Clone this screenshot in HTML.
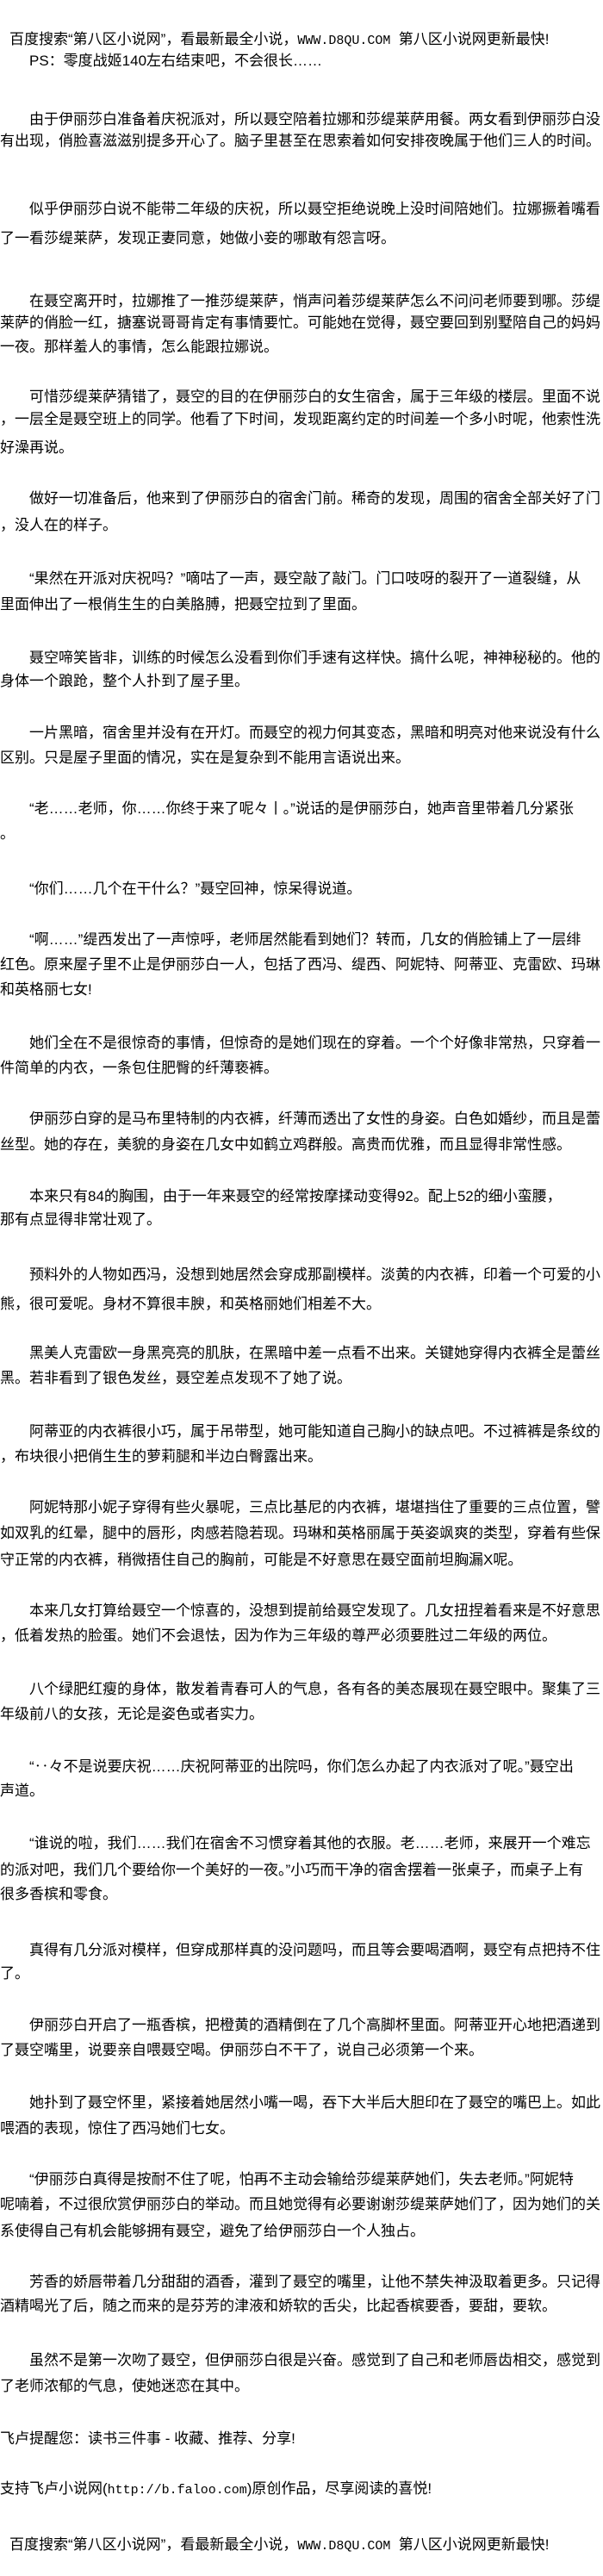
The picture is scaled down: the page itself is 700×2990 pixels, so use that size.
<!DOCTYPE html>
<html><head><meta charset="utf-8">
<style>
html,body{margin:0;padding:0;background:#fff;}
body{width:700px;height:2990px;position:relative;overflow:hidden;color:#000;
font-family:"Liberation Sans","Noto Sans CJK SC",sans-serif;font-size:17px;}
.l{position:absolute;left:0;white-space:nowrap;line-height:24px;height:24px;}
.i{left:34px;}
.h{left:11px;}
.m{font-family:"Liberation Mono","Noto Sans CJK SC",monospace;font-size:15px;}
</style></head><body>
<div class="l h" style="top:34px">百度搜索“第八区小说网”，看最新最全小说，<span class="m">WWW.D8QU.COM</span>&nbsp;&nbsp;第八区小说网更新最快!</div>
<div class="l i" style="top:59px">PS：零度战姬140左右结束吧，不会很长……</div>

<div class="l i" style="top:127px">由于伊丽莎白准备着庆祝派对，所以聂空陪着拉娜和莎缇莱萨用餐。两女看到伊丽莎白没</div>
<div class="l" style="top:152px">有出现，俏脸喜滋滋别提多开心了。脑子里甚至在思索着如何安排夜晚属于他们三人的时间。</div>

<div class="l i" style="top:231px">似乎伊丽莎白说不能带二年级的庆祝，所以聂空拒绝说晚上没时间陪她们。拉娜撅着嘴看</div>
<div class="l" style="top:265px">了一看莎缇莱萨，发现正妻同意，她做小妾的哪敢有怨言呀。</div>

<div class="l i" style="top:338px">在聂空离开时，拉娜推了一推莎缇莱萨，悄声问着莎缇莱萨怎么不问问老师要到哪。莎缇</div>
<div class="l" style="top:363px">莱萨的俏脸一红，搪塞说哥哥肯定有事情要忙。可能她在觉得，聂空要回到别墅陪自己的妈妈</div>
<div class="l" style="top:391px">一夜。那样羞人的事情，怎么能跟拉娜说。</div>

<div class="l i" style="top:449px">可惜莎缇莱萨猜错了，聂空的目的在伊丽莎白的女生宿舍，属于三年级的楼层。里面不说</div>
<div class="l" style="top:475px">，一层全是聂空班上的同学。他看了下时间，发现距离约定的时间差一个多小时呢，他索性洗</div>
<div class="l" style="top:508px">好澡再说。</div>

<div class="l i" style="top:567px">做好一切准备后，他来到了伊丽莎白的宿舍门前。稀奇的发现，周围的宿舍全部关好了门</div>
<div class="l" style="top:598px">，没人在的样子。</div>

<div class="l i" style="top:660px">“果然在开派对庆祝吗？”嘀咕了一声，聂空敲了敲门。门口吱呀的裂开了一道裂缝，从</div>
<div class="l" style="top:690px">里面伸出了一根俏生生的白美胳膊，把聂空拉到了里面。</div>

<div class="l i" style="top:752px">聂空啼笑皆非，训练的时候怎么没看到你们手速有这样快。搞什么呢，神神秘秘的。他的</div>
<div class="l" style="top:779px">身体一个踉跄，整个人扑到了屋子里。</div>

<div class="l i" style="top:839px">一片黑暗，宿舍里并没有在开灯。而聂空的视力何其变态，黑暗和明亮对他来说没有什么</div>
<div class="l" style="top:868px">区别。只是屋子里面的情况，实在是复杂到不能用言语说出来。</div>

<div class="l i" style="top:927px">“老……老师，你……你终于来了呢々丨。”说话的是伊丽莎白，她声音里带着几分紧张</div>
<div class="l" style="top:956px">。</div>

<div class="l i" style="top:1020px">“你们……几个在干什么？”聂空回神，惊呆得说道。</div>

<div class="l i" style="top:1079px">“啊……”缇西发出了一声惊呼，老师居然能看到她们？转而，几女的俏脸铺上了一层绯</div>
<div class="l" style="top:1108px">红色。原来屋子里不止是伊丽莎白一人，包括了西冯、缇西、阿妮特、阿蒂亚、克雷欧、玛琳</div>
<div class="l" style="top:1137px">和英格丽七女!</div>

<div class="l i" style="top:1199px">她们全在不是很惊奇的事情，但惊奇的是她们现在的穿着。一个个好像非常热，只穿着一</div>
<div class="l" style="top:1228px">件简单的内衣，一条包住肥臀的纤薄亵裤。</div>

<div class="l i" style="top:1287px">伊丽莎白穿的是马布里特制的内衣裤，纤薄而透出了女性的身姿。白色如婚纱，而且是蕾</div>
<div class="l" style="top:1317px">丝型。她的存在，美貌的身姿在几女中如鹤立鸡群般。高贵而优雅，而且显得非常性感。</div>

<div class="l i" style="top:1377px">本来只有84的胸围，由于一年来聂空的经常按摩揉动变得92。配上52的细小蛮腰，</div>
<div class="l" style="top:1404px">那有点显得非常壮观了。</div>

<div class="l i" style="top:1468px">预料外的人物如西冯，没想到她居然会穿成那副模样。淡黄的内衣裤，印着一个可爱的小</div>
<div class="l" style="top:1502px">熊，很可爱呢。身材不算很丰腴，和英格丽她们相差不大。</div>

<div class="l i" style="top:1559px">黑美人克雷欧一身黑亮亮的肌肤，在黑暗中差一点看不出来。关键她穿得内衣裤全是蕾丝</div>
<div class="l" style="top:1588px">黑。若非看到了银色发丝，聂空差点发现不了她了说。</div>

<div class="l i" style="top:1650px">阿蒂亚的内衣裤很小巧，属于吊带型，她可能知道自己胸小的缺点吧。不过裤裤是条纹的</div>
<div class="l" style="top:1679px">，布块很小把俏生生的萝莉腿和半边白臀露出来。</div>

<div class="l i" style="top:1738px">阿妮特那小妮子穿得有些火暴呢，三点比基尼的内衣裤，堪堪挡住了重要的三点位置，譬</div>
<div class="l" style="top:1768px">如双乳的红晕，腿中的唇形，肉感若隐若现。玛琳和英格丽属于英姿飒爽的类型，穿着有些保</div>
<div class="l" style="top:1799px">守正常的内衣裤，稍微捂住自己的胸前，可能是不好意思在聂空面前坦胸漏X呢。</div>

<div class="l i" style="top:1858px">本来几女打算给聂空一个惊喜的，没想到提前给聂空发现了。几女扭捏着看来是不好意思</div>
<div class="l" style="top:1887px">，低着发热的脸蛋。她们不会退怯，因为作为三年级的尊严必须要胜过二年级的两位。</div>

<div class="l i" style="top:1949px">八个绿肥红瘦的身体，散发着青春可人的气息，各有各的美态展现在聂空眼中。聚集了三</div>
<div class="l" style="top:1978px">年级前八的女孩，无论是姿色或者实力。</div>

<div class="l i" style="top:2039px">“‥々不是说要庆祝……庆祝阿蒂亚的出院吗，你们怎么办起了内衣派对了呢。”聂空出</div>
<div class="l" style="top:2067px">声道。</div>

<div class="l i" style="top:2128px">“谁说的啦，我们……我们在宿舍不习惯穿着其他的衣服。老……老师，来展开一个难忘</div>
<div class="l" style="top:2159px">的派对吧，我们几个要给你一个美好的一夜。”小巧而干净的宿舍摆着一张桌子，而桌子上有</div>
<div class="l" style="top:2187px">很多香槟和零食。</div>

<div class="l i" style="top:2252px">真得有几分派对模样，但穿成那样真的没问题吗，而且等会要喝酒啊，聂空有点把持不住</div>
<div class="l" style="top:2279px">了。</div>

<div class="l i" style="top:2339px">伊丽莎白开启了一瓶香槟，把橙黄的酒精倒在了几个高脚杯里面。阿蒂亚开心地把酒递到</div>
<div class="l" style="top:2368px">了聂空嘴里，说要亲自喂聂空喝。伊丽莎白不干了，说自己必须第一个来。</div>

<div class="l i" style="top:2429px">她扑到了聂空怀里，紧接着她居然小嘴一喝，吞下大半后大胆印在了聂空的嘴巴上。如此</div>
<div class="l" style="top:2459px">喂酒的表现，惊住了西冯她们七女。</div>

<div class="l i" style="top:2518px">“伊丽莎白真得是按耐不住了呢，怕再不主动会输给莎缇莱萨她们，失去老师。”阿妮特</div>
<div class="l" style="top:2547px">呢喃着，不过很欣赏伊丽莎白的举动。而且她觉得有必要谢谢莎缇莱萨她们了，因为她们的关</div>
<div class="l" style="top:2578px">系使得自己有机会能够拥有聂空，避免了给伊丽莎白一个人独占。</div>

<div class="l i" style="top:2637px">芳香的娇唇带着几分甜甜的酒香，灌到了聂空的嘴里，让他不禁失神汲取着更多。只记得</div>
<div class="l" style="top:2665px">酒精喝光了后，随之而来的是芬芳的津液和娇软的舌尖，比起香槟要香，要甜，要软。</div>

<div class="l i" style="top:2728px">虽然不是第一次吻了聂空，但伊丽莎白很是兴奋。感觉到了自己和老师唇齿相交，感觉到</div>
<div class="l" style="top:2758px">了老师浓郁的气息，使她迷恋在其中。</div>

<div class="l" style="top:2819px">飞卢提醒您：读书三件事 - 收藏、推荐、分享!</div>
<div class="l" style="top:2877px">支持飞卢小说网(<span class="m">http://b.faloo.com</span>)原创作品，尽享阅读的喜悦!</div>
<div class="l h" style="top:2942px">百度搜索“第八区小说网”，看最新最全小说，<span class="m">WWW.D8QU.COM</span>&nbsp;&nbsp;第八区小说网更新最快!</div>
</body></html>
